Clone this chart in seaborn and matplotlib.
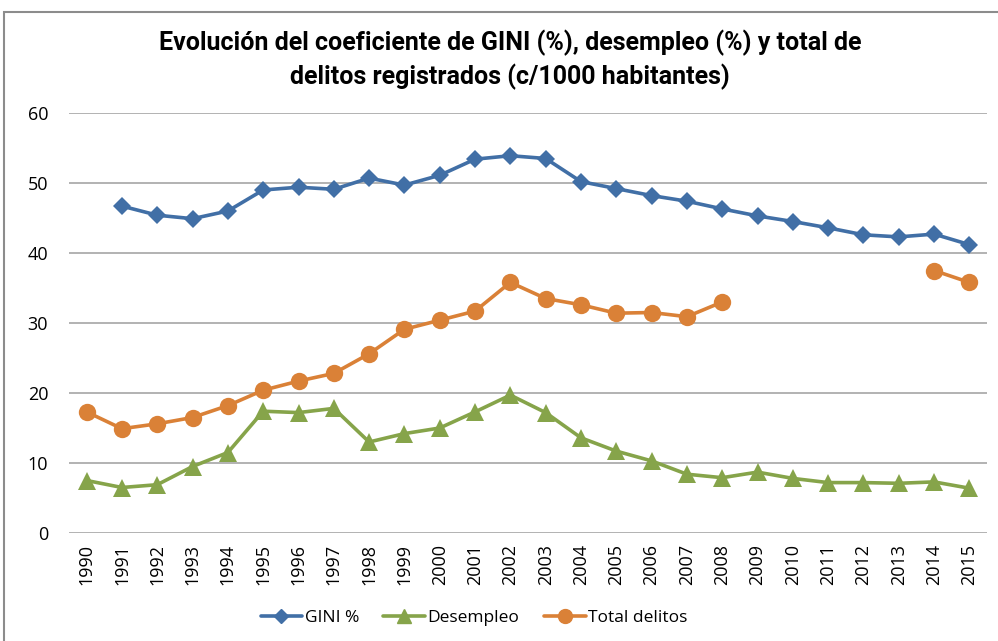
import numpy as np
import pandas as pd
import matplotlib
matplotlib.use("Agg")
import matplotlib.pyplot as plt
from matplotlib.lines import Line2D
from matplotlib.patches import Rectangle
import seaborn as sns

years = list(range(1990, 2016))
gini = [np.nan, 46.7, 45.4, 44.9, 46.0, 49.0, 49.4, 49.1, 50.7, 49.7, 51.1, 53.4, 53.9,
        53.5, 50.2, 49.2, 48.2, 47.4, 46.3, 45.3, 44.5, 43.6, 42.6, 42.3, 42.7, 41.2]
desempleo = [7.5, 6.5, 6.9, 9.5, 11.5, 17.4, 17.2, 17.8, 13.0, 14.2, 15.0, 17.3, 19.7,
             17.2, 13.6, 11.7, 10.3, 8.4, 7.9, 8.7, 7.8, 7.2, 7.2, 7.1, 7.3, 6.4]
delitos = [17.3, 14.9, 15.6, 16.5, 18.2, 20.4, 21.7, 22.8, 25.6, 29.1, 30.4, 31.7, 35.8,
           33.5, 32.6, 31.4, 31.5, 30.9, 33.0, np.nan, np.nan, np.nan, np.nan, np.nan, 37.5, 35.8]
yticks = [0, 10, 20, 30, 40, 50, 60]
labels = ["GINI %", "Desempleo", "Total delitos"]

title = "Evolución del coeficiente de GINI (%), desempleo (%) y total de\ndelitos registrados (c/1000 habitantes)"

c_blue = "#416FA6"
c_green = "#86A44A"
c_orange = "#DA8137"

sns.set_style("white")
plt.rcParams["font.family"] = ["Open Sans", "DejaVu Sans"]
plt.rcParams["text.color"] = "black"
plt.rcParams["xtick.color"] = "black"
plt.rcParams["ytick.color"] = "black"

df = pd.DataFrame({"pos": np.arange(len(years)), "year": years,
                   "gini": gini, "desempleo": desempleo, "delitos": delitos})

fig = plt.figure(figsize=(9.98, 6.41), dpi=100)
ax = fig.add_axes([69/998, 1-533/641, (987-69)/998, (533-113)/641])

# outer frame
fig.patches.append(Rectangle((4/998, -0.1), 1.2, 1.1 - 12/641,
                             transform=fig.transFigure, fill=False,
                             edgecolor="#8C8C8C", linewidth=1.5, zorder=0))

def segments(col):
    d = df[["pos", col]].copy()
    d["seg"] = d[col].isna().cumsum()
    d = d.dropna()
    return [g for _, g in d.groupby("seg")]

for col, color, marker, ms in [("gini", c_blue, "D", 9.5),
                               ("desempleo", c_green, "^", 13),
                               ("delitos", c_orange, "o", 12.5)]:
    for seg in segments(col):
        sns.lineplot(data=seg, x="pos", y=col, ax=ax, color=color, linewidth=2.6,
                     marker=marker, markersize=ms, markeredgewidth=0,
                     markeredgecolor=color, legend=False, zorder=3)

ax.set_xlim(-0.5, len(years) - 0.5)
ax.set_ylim(0, 60)
ax.set_yticks(yticks)
ax.set_yticklabels([str(v) for v in yticks], fontsize=13)
ax.set_xticks(df["pos"])
ax.set_xticklabels([str(y) for y in years], rotation=90, fontsize=13)
ax.tick_params(axis="y", length=0, pad=15)
ax.tick_params(axis="x", length=0, pad=8)
ax.yaxis.grid(True, color="#A6A6A6", linewidth=1.2)
ax.set_axisbelow(True)
for s in ax.spines.values():
    s.set_visible(False)
ax.set_xlabel("")
ax.set_ylabel("")

fig.text(0.511, 1 - 60/641, title, ha="center", va="center", fontsize=18,
         fontweight="bold", linespacing=1.4, family=["Roboto", "DejaVu Sans"],
         color="black")

handles = [Line2D([], [], color=c_blue, marker="D", markersize=7, linewidth=2.6),
           Line2D([], [], color=c_green, marker="^", markersize=10, linewidth=2.6),
           Line2D([], [], color=c_orange, marker="o", markersize=10, linewidth=2.6)]
fig.legend(handles, labels, loc="center",
           bbox_to_anchor=(0.475, 1 - 618/641), ncol=3, frameon=False,
           prop={"size": 12.5},
           handlelength=2.4, handletextpad=0.15, columnspacing=1.4)

fig.savefig("out.png", dpi=100)
